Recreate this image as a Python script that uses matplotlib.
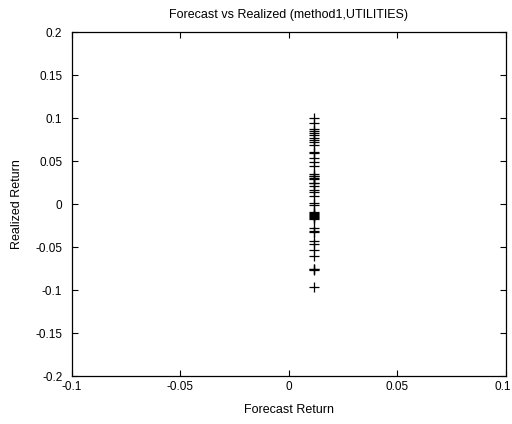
import matplotlib
matplotlib.use("Agg")
import matplotlib.pyplot as plt
from matplotlib.transforms import ScaledTranslation

plt.rcParams['font.family'] = ['Liberation Sans', 'DejaVu Sans']

# Realized returns for the UTILITIES sector under method1
realized = [0.100, 0.094, 0.087, 0.085, 0.083, 0.080, 0.077, 0.074, 0.072, 0.069,
            0.061, 0.059, 0.053, 0.049, 0.044, 0.035, 0.033, 0.032, 0.030, 0.029,
            0.025, 0.024, 0.021, 0.016, 0.014, 0.009, 0.001, -0.001, -0.009, -0.011,
            -0.012, -0.013, -0.014, -0.015, -0.016, -0.017, -0.028, -0.031, -0.033,
            -0.043, -0.046, -0.054, -0.061, -0.075, -0.076, -0.077, -0.097]
# method1 issues one constant forecast for the sector
forecast_value = 0.0115
forecast = [forecast_value] * len(realized)

xticks = [-0.1, -0.05, 0, 0.05, 0.1]
xticklabels = ['-0.1', '-0.05', '0', '0.05', '0.1']
yticks = [-0.2, -0.15, -0.1, -0.05, 0, 0.05, 0.1, 0.15, 0.2]
yticklabels = ['-0.2', '-0.15', '-0.1', '-0.05', '0', '0.05', '0.1', '0.15', '0.2']

fig = plt.figure(figsize=(5.12, 4.24), dpi=100)
ax = fig.add_axes([0.1406, 0.1132, 0.8474, 0.8113])

ax.plot(forecast, realized, linestyle='none', marker='+', color='black',
        markersize=7, markeredgewidth=0.9)

ax.set_xlim(-0.1, 0.1)
ax.set_ylim(-0.2, 0.2)
ax.set_xticks(xticks)
ax.set_xticklabels(xticklabels)
ax.set_yticks(yticks)
ax.set_yticklabels(yticklabels)
ax.tick_params(direction='in', length=4, width=0.8, top=True, right=True,
               labelsize=8.5, colors='black')
ax.tick_params(axis='y', pad=7)
for s in ax.spines.values():
    s.set_linewidth(0.9)

# keep the right-most x label inside the figure edge
last = ax.get_xticklabels()[-1]
last.set_horizontalalignment('right')
last.set_transform(last.get_transform() + ScaledTranslation(5 / 100, 0, fig.dpi_scale_trans))

ax.set_title('Forecast vs Realized (method1,UTILITIES)', fontsize=9, pad=10)
ax.set_xlabel('Forecast Return', fontsize=9, labelpad=8)
ax.set_ylabel('Realized Return', fontsize=9, labelpad=9)

fig.savefig('out.png', dpi=100, facecolor='white')
